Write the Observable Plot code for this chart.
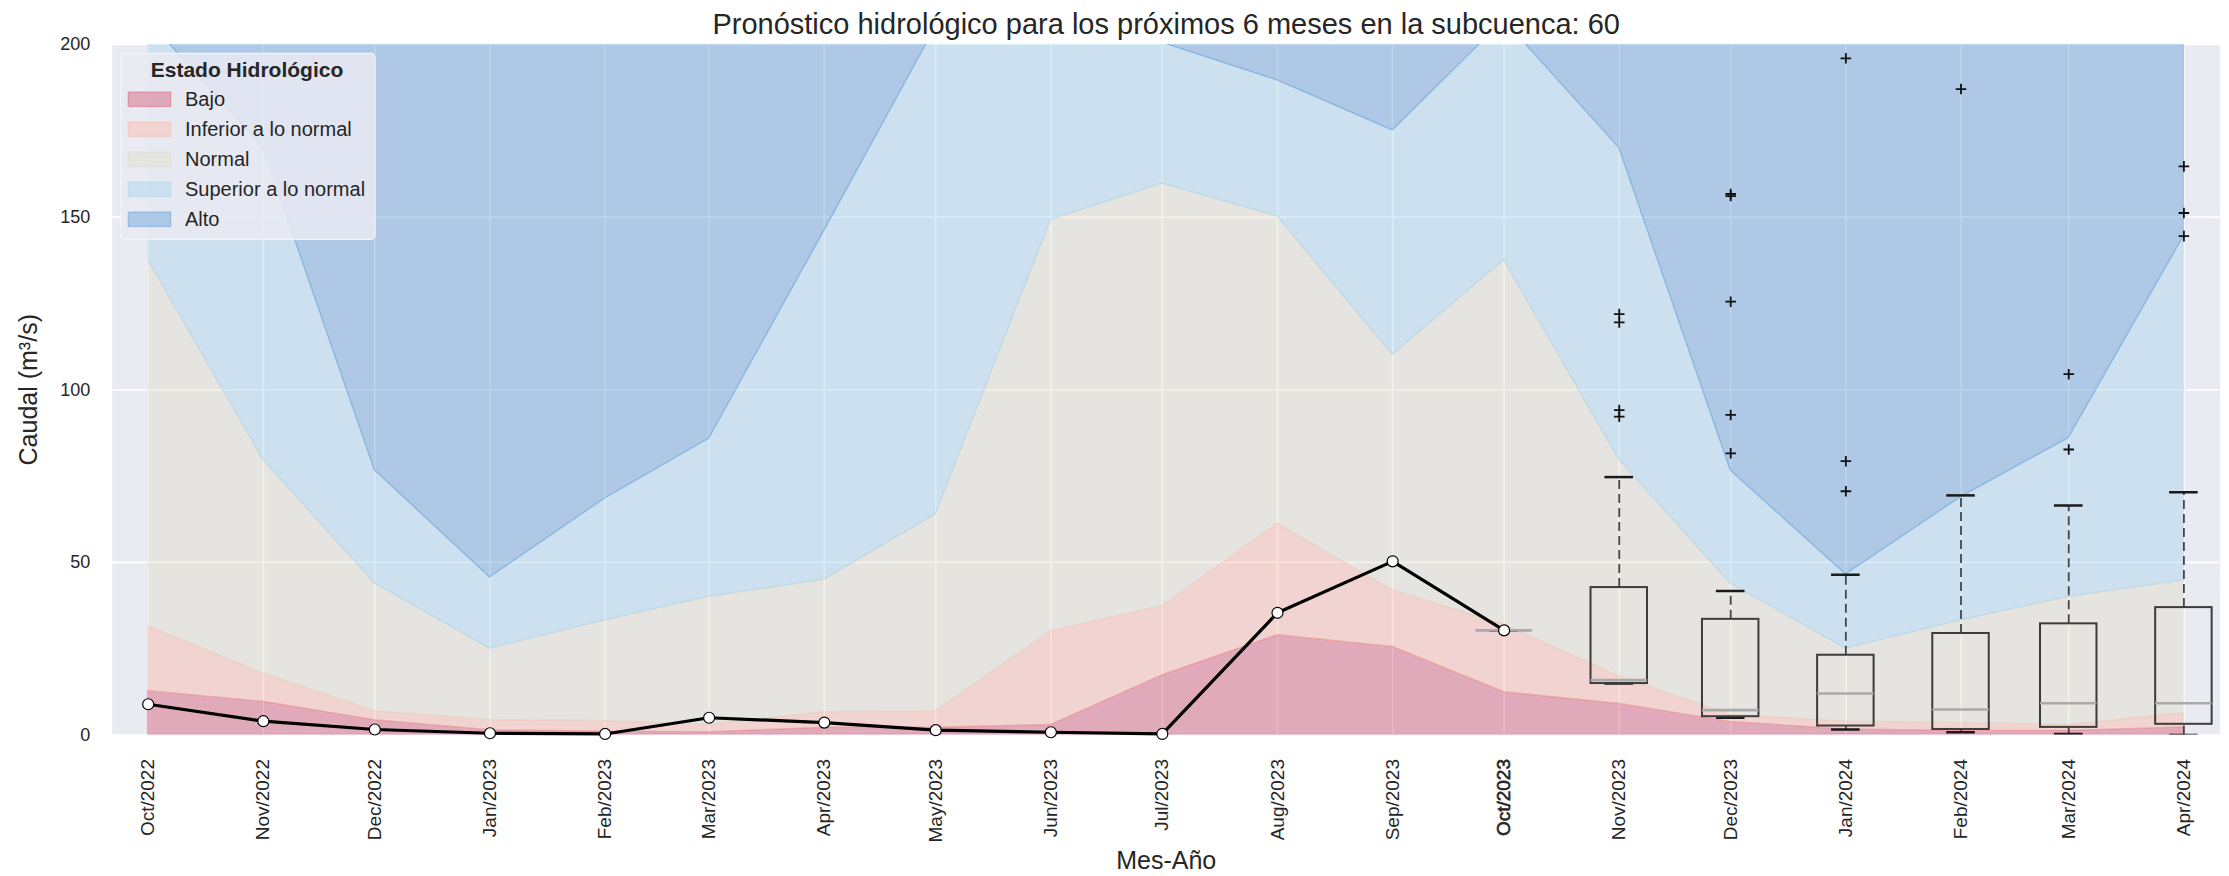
<!DOCTYPE html>
<html>
<head>
<meta charset="utf-8">
<script src="https://cdn.jsdelivr.net/npm/d3@7"></script>
<script src="https://cdn.jsdelivr.net/npm/@observablehq/plot@0.6"></script>
<style>
  html, body { margin: 0; padding: 0; background: #ffffff; }
  svg { display: block; }
</style>
</head>
<body>
<div id="chart"></div>
<script>
// ---------------- DATA ----------------
const title = "Pronóstico hidrológico para los próximos 6 meses en la subcuenca: 60";
const xLabel = "Mes-Año";
const yLabel = "Caudal (m³/s)";
const categories = ["Bajo", "Inferior a lo normal", "Normal", "Superior a lo normal", "Alto"];

const months = [
  "2022-10-01", "2022-11-01", "2022-12-01", "2023-01-01", "2023-02-01", "2023-03-01",
  "2023-04-01", "2023-05-01", "2023-06-01", "2023-07-01", "2023-08-01", "2023-09-01",
  "2023-10-01", "2023-11-01", "2023-12-01", "2024-01-01", "2024-02-01", "2024-03-01",
  "2024-04-01"
];
// upper limit of each hydrological state (m3/s)
const bajo      = [12.7, 9.6, 4.3, 1.4, 1.0, 0.8, 2.1, 2.1, 2.9, 17.3, 28.9, 25.5, 12.4, 9.0, 3.8, 1.6, 1.2, 1.2, 2.2];
const inferior  = [31.5, 17.8, 6.9, 4.3, 4.0, 3.0, 6.6, 6.9, 30.1, 37.3, 61.2, 41.9, 32.0, 17.0, 5.8, 3.9, 3.5, 2.9, 6.3];
const normal    = [137.5, 79.7, 43.9, 25.0, 33.2, 40.0, 45.0, 63.9, 149.1, 159.7, 150.2, 110.1, 137.5, 79.7, 43.8, 25.0, 33.2, 40.0, 44.8];
const superior  = [207, 170, 76.7, 45.6, 68.5, 85.8, 146, 205, 230, 200.5, 189.6, 175.1, 207, 170, 76.6, 46.5, 68.9, 86, 144.5];
const alto      = [250, 250, 250, 250, 250, 250, 250, 250, 250, 250, 250, 250, 250, 250, 250, 250, 250, 250, 250];

// observed discharge
const observedMonths = months.slice(0, 13);
const observed = [8.9, 4.0, 1.6, 0.5, 0.3, 5.0, 3.6, 1.4, 0.8, 0.3, 35.4, 50.3, 30.3];

// forecast ensemble box plots
const boxMonths = ["2023-10-01", "2023-11-01", "2023-12-01", "2024-01-01", "2024-02-01", "2024-03-01", "2024-04-01"];
const boxLow    = [30.3, 14.9, 5.0, 1.6, 0.8, 0.3, 0.0];
const boxQ1     = [30.3, 14.9, 5.3, 2.6, 1.6, 2.2, 3.1];
const boxMedian = [30.3, 15.9, 7.2, 12.0, 7.4, 9.2, 9.2];
const boxQ3     = [30.3, 42.7, 33.5, 23.1, 29.4, 32.2, 36.9];
const boxHigh   = [30.3, 74.7, 41.7, 46.4, 69.4, 66.5, 70.3];
const boxOutliers = [
  [],
  [92.2, 94.1, 119.5, 121.9],
  [81.6, 92.7, 125.5, 156.1, 156.7],
  [70.6, 79.3, 196.0],
  [187.1],
  [82.7, 104.5],
  [144.5, 151.2, 164.7]
];
const yTicks = [0, 50, 100, 150, 200];

// ---------------- STYLE ----------------
const FONT = "'Liberation Sans', Arial, Helvetica, sans-serif";
const TEXT = "#262626";
const bandColors = ["#d14a68", "#fcb3a0", "#e0ddc5", "#a1d1ea", "#5695d4"];
const bandAlpha = 0.4;
const DAY = 864e5;
const halfBox = 7.6;   // days
const halfCap = 3.85;  // days
const off = (d, days) => new Date(+d + days * DAY);

// ---------------- TABLES ----------------
const rows = months.map((m, i) => ({
  date: new Date(m),
  b0: 0, b1: bajo[i], b2: inferior[i], b3: normal[i], b4: superior[i], b5: alto[i]
}));
const obs = observedMonths.map((m, i) => ({date: new Date(m), value: observed[i]}));
const boxes = boxMonths.map((m, i) => ({
  date: new Date(m), lo: boxLow[i], q1: boxQ1[i], med: boxMedian[i], q3: boxQ3[i], hi: boxHigh[i]
}));
const outliers = boxMonths.flatMap((m, i) => boxOutliers[i].map(v => ({date: new Date(m), value: v})));
const monthDates = months.map(m => new Date(m));

const bandMarks = categories.map((c, k) =>
  Plot.areaY(rows, {
    x: "date", y1: "b" + k, y2: "b" + (k + 1),
    fill: bandColors[k], fillOpacity: bandAlpha,
    stroke: bandColors[k], strokeOpacity: bandAlpha, strokeWidth: 1.3,
    clip: true
  })
);

const chart = Plot.plot({
  width: 2229,
  height: 876,
  marginLeft: 111.7,
  marginRight: 9.3,
  marginTop: 44,
  marginBottom: 141.5,
  style: {fontFamily: FONT, color: TEXT, background: "#ffffff", overflow: "visible"},
  x: {type: "utc", domain: [new Date("2022-09-21T07:30Z"), new Date("2024-04-10T18:30Z")]},
  y: {domain: [0, 200]},
  marks: [
    Plot.frame({fill: "#eaeaf2", stroke: null}),
    Plot.gridX(monthDates, {stroke: "#ffffff", strokeOpacity: 1, strokeWidth: 1.6}),
    Plot.gridY(yTicks, {stroke: "#ffffff", strokeOpacity: 1, strokeWidth: 1.6}),
    ...bandMarks,
    // box plots
    Plot.ruleX(boxes, {x: "date", y1: "q3", y2: "hi", stroke: "#444444", strokeWidth: 1.8, strokeDasharray: "9,5", clip: true}),
    Plot.ruleX(boxes, {x: "date", y1: "lo", y2: "q1", stroke: "#444444", strokeWidth: 1.8, strokeDasharray: "9,5", clip: true}),
    Plot.ruleY(boxes, {y: "hi", x1: d => off(d.date, -halfCap), x2: d => off(d.date, halfCap), stroke: "#1a1a1a", strokeWidth: 2.5, clip: true}),
    Plot.ruleY(boxes, {y: "lo", x1: d => off(d.date, -halfCap), x2: d => off(d.date, halfCap), stroke: "#1a1a1a", strokeWidth: 2.5, clip: true}),
    Plot.rect(boxes, {x1: d => off(d.date, -halfBox), x2: d => off(d.date, halfBox), y1: "q1", y2: "q3", fill: "none", stroke: "#3c3c3c", strokeWidth: 2}),
    Plot.ruleY(boxes, {y: "med", x1: d => off(d.date, -halfBox), x2: d => off(d.date, halfBox), stroke: "#aaaaaa", strokeWidth: 2.6}),
    Plot.dot(outliers, {x: "date", y: "value", symbol: "plus", r: 3.5, stroke: "#111111", strokeWidth: 1.8}),
    // observed
    Plot.line(obs, {x: "date", y: "value", stroke: "#000000", strokeWidth: 3.2}),
    Plot.dot(obs, {x: "date", y: "value", r: 5.5, fill: "#ffffff", stroke: "#000000", strokeWidth: 1.2}),
    // axes
    Plot.axisX(monthDates, {tickFormat: d3.utcFormat("%b/%Y"), tickRotate: -90, tickSize: 0, tickPadding: 24, fontSize: 19, label: null}),
    Plot.axisY(yTicks, {tickSize: 0, tickPadding: 22, fontSize: 18, label: null}),
    // texts
    Plot.text([title], {text: d => d, frameAnchor: "top", dy: -20, fontSize: 29, lineAnchor: "middle", fill: TEXT}),
    Plot.text([xLabel], {text: d => d, frameAnchor: "bottom", dy: 125.5, fontSize: 25, lineAnchor: "middle", textAnchor: "middle", fill: TEXT}),
    Plot.text([yLabel], {text: d => d, frameAnchor: "left", dx: -83.4, rotate: -90, fontSize: 25, lineAnchor: "middle", textAnchor: "middle", fill: TEXT})
  ]
});

// emphasize overlapping label (drawn twice in the original)
d3.select(chart).selectAll("text").filter(function() { return this.textContent === "Oct/2023"; })
  .attr("stroke", "currentColor").attr("stroke-width", 0.6);

// ---------------- LEGEND ----------------
const lg = d3.select(chart).append("g").attr("font-family", FONT).attr("fill", TEXT).attr("text-anchor", "start");
lg.append("rect").attr("x", 120.7).attr("y", 53.3).attr("width", 254.3).attr("height", 186).attr("rx", 4)
  .attr("fill", "#eaeaf2").attr("fill-opacity", 0.85).attr("stroke", "#f4f4f8").attr("stroke-width", 1.2);
lg.append("text").attr("x", 247).attr("y", 76.7).attr("text-anchor", "middle")
  .attr("font-size", 21).attr("font-weight", "bold").text("Estado Hidrológico");
categories.forEach((c, i) => {
  const cy = 99.3 + 30 * i;
  lg.append("rect").attr("x", 128.3).attr("y", cy - 7.2).attr("width", 42.4).attr("height", 14.4)
    .attr("fill", bandColors[i]).attr("fill-opacity", bandAlpha)
    .attr("stroke", bandColors[i]).attr("stroke-opacity", bandAlpha).attr("stroke-width", 1.3);
  lg.append("text").attr("x", 185).attr("y", cy + 7).attr("text-anchor", "start").attr("font-size", 20).text(c);
});

document.getElementById("chart").appendChild(chart);
</script>
</body>
</html>
